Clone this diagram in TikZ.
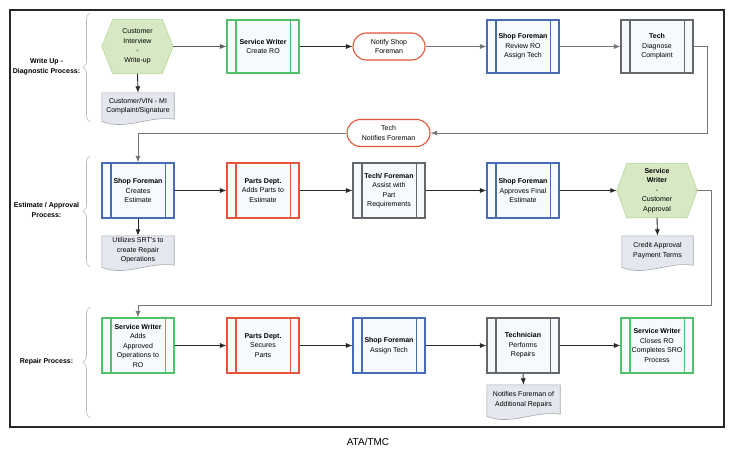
\documentclass[tikz,border=0pt]{standalone}
\usepackage{fontspec}
\setmainfont{Liberation Sans}
\usetikzlibrary{arrows.meta,decorations.pathreplacing,backgrounds,calc}

\definecolor{cgreen}{RGB}{82,194,106}
\definecolor{cred}{RGB}{228,84,58}
\definecolor{cblue}{RGB}{72,108,180}
\definecolor{cgray}{RGB}{100,104,108}
\definecolor{hexfill}{RGB}{214,233,196}
\definecolor{hexline}{RGB}{180,216,150}
\definecolor{docfill}{RGB}{228,232,238}
\definecolor{docline}{RGB}{165,168,172}
\definecolor{boxfill}{RGB}{247,250,253}
\definecolor{linegray}{RGB}{118,118,118}
\definecolor{arrdark}{RGB}{40,40,40}
\definecolor{bracegray}{RGB}{185,185,185}
\definecolor{framecol}{RGB}{40,40,40}

\begin{document}
\begin{tikzpicture}[x=1pt,y=-1pt,
  every node/.style={font=\fontsize{7}{9.5}\selectfont, align=center, inner sep=0pt},
  proc/.style={draw=#1, fill=boxfill, line width=1.1pt, minimum width=72pt, minimum height=55pt},
  term/.style={draw=cred, fill=white, line width=1.1pt, minimum height=27pt, rounded corners=13.5pt},
  hexnode/.style={minimum width=#1, minimum height=54pt},
  hexshape/.style={fill=hexfill, draw=hexline, line width=0.6pt},
  docnode/.style={minimum height=29pt},
  docshape/.style={fill=docfill, draw=docline, line width=0.6pt},
  arr/.style={-{Latex[length=6.5pt,width=5pt]}, line width=0.9pt, draw=arrdark},
  fb/.style={-{Latex[length=6.5pt,width=5pt]}, line width=0.9pt, draw=linegray},
  lbl/.style={font=\fontsize{7}{9.5}\selectfont\bfseries},
  bracestyle/.style={draw=bracegray, line width=0.6pt, decorate, decoration={brace, amplitude=7pt}}
]
\useasboundingbox (0,0) rectangle (735,455);

% outer frame
\draw[line width=1.3pt, draw=framecol] (10,10) rectangle (724,427);

% lane labels and braces
\node[lbl] (l1) at (46.5,66.5) {Write Up -\\Diagnostic Process:};
\node[lbl] (l2) at (46.5,210) {Estimate / Approval\\Process:};
\node[lbl] (l3) at (46.5,362) {Repair Process:};
\draw[bracestyle] (90,122) -- (90,13);
\draw[bracestyle] (90,267) -- (90,156);
\draw[bracestyle] (90,418) -- (90,307);

% ---------- Row 1 ----------
\node[hexnode=71pt] (cw) at (137.5,46.5) {Customer\\Interview\\-\\Write-up};
\node[docnode, minimum width=72pt, minimum height=26pt] (d1) at (138,106) {Customer/VIN - MI\\Complaint/Signature};
\node[proc=cgreen, minimum height=53pt] (sw1) at (263,46.5) {\textbf{Service Writer}\\Create RO};
\node[term, minimum width=72pt] (nsf) at (389,46.5) {Notify Shop\\Foreman};
\node[proc=cblue, minimum height=53pt] (sf1) at (523,46.5) {\textbf{Shop Foreman}\\Review RO\\Assign Tech};
\node[proc=cgray, minimum height=53pt] (t1) at (657,46.5) {\textbf{Tech}\\Diagnose\\Complaint};
\node[term, minimum width=83pt] (tnf) at (388.5,133) {Tech\\Notifies Foreman};

% ---------- Row 2 ----------
\node[proc=cblue] (sf2) at (138,190.5) {\textbf{Shop Foreman}\\Creates\\Estimate};
\node[docnode, minimum width=72pt] (d2) at (138,250.5) {Utilizes SRT's to\\create Repair\\Operations};
\node[proc=cred] (pd2) at (263,190.5) {\textbf{Parts Dept.}\\Adds Parts to\\Estimate};
\node[proc=cgray] (tf2) at (389,190.5) {\textbf{Tech/ Foreman}\\Assist with\\Part\\Requirements};
\node[proc=cblue] (sf3) at (523,190.5) {\textbf{Shop Foreman}\\Approves Final\\Estimate};
\node[hexnode=80pt] (ca) at (657,190.5) {\textbf{Service}\\\textbf{Writer}\\-\\Customer\\Approval};
\node[docnode, minimum width=71pt] (d3) at (657.5,250.5) {Credit Approval\\Payment Terms};

% ---------- Row 3 ----------
\node[proc=cgreen] (sw3) at (138,345.5) {\textbf{Service Writer}\\Adds\\Approved\\Operations to\\RO};
\node[proc=cred] (pd3) at (263,345.5) {\textbf{Parts Dept.}\\Secures\\Parts};
\node[proc=cblue] (sf4) at (389,345.5) {\textbf{Shop Foreman}\\Assign Tech};
\node[proc=cgray] (tc3) at (523,345.5) {\textbf{Technician}\\Performs\\Repairs};
\node[proc=cgreen] (sw4) at (657,345.5) {\textbf{Service Writer}\\Closes RO\\Completes SRO\\Process};
\node[docnode, minimum width=73pt] (d4) at (523.5,399.5) {Notifies Foreman of\\Additional Repairs};

% footer
\node[font=\fontsize{10}{12}\selectfont] (src) at (368,442) {ATA/TMC};

% inner lines of the process boxes
\foreach \n/\c in {sw1/cgreen, sf1/cblue, t1/cgray, sf2/cblue, pd2/cred, tf2/cgray, sf3/cblue,
                   sw3/cgreen, pd3/cred, sf4/cblue, tc3/cgray, sw4/cgreen}{
  \draw[draw=\c, line width=1.1pt] ([xshift=9.5pt]\n.north west) -- ([xshift=9.5pt]\n.south west)
        ([xshift=-9.5pt]\n.north east) -- ([xshift=-9.5pt]\n.south east);
}

% hexagons and documents (background)
\begin{scope}[on background layer]
  \foreach \h/\s in {cw/11pt, ca/10pt}{
    \filldraw[hexshape] (\h.west) -- ([xshift=\s]\h.north west) -- ([xshift=-\s]\h.north east)
      -- (\h.east) -- ([xshift=-\s]\h.south east) -- ([xshift=\s]\h.south west) -- cycle;
  }
  \foreach \d in {d1,d2,d3,d4}{
    \filldraw[docshape] (\d.north west) -- (\d.north east) -- (\d.south east)
      .. controls ($(\d.south)+(12,-4)$) and ($(\d.south)+(-14,12)$) .. ($(\d.south west)+(0,2)$) -- cycle;
  }
\end{scope}

% connectors row 1
\draw[arr, draw=linegray!80!black] (cw.east) -- (sw1.west);
\draw[arr] (cw.south) -- (d1.north);
\draw[arr] (sw1.east) -- (nsf.west);
\draw[fb] (nsf.east) -- (sf1.west);
\draw[fb] (sf1.east) -- (t1.west);
\draw[fb] (t1.east) -- ++(14,0) |- (tnf.east);
\draw[fb] (tnf.west) -| (sf2.north);

% connectors row 2
\draw[arr] (sf2.south) -- (d2.north);
\draw[arr] (sf2.east) -- (pd2.west);
\draw[arr] (pd2.east) -- (tf2.west);
\draw[arr] (tf2.east) -- (sf3.west);
\draw[arr] (sf3.east) -- (ca.west);
\draw[arr] (ca.south) -- (d3.north);
\coordinate (c1) at (711,305);
\draw[fb] (ca.east) -| (c1) -| (sw3.north);

% connectors row 3
\draw[arr] (sw3.east) -- (pd3.west);
\draw[arr] (pd3.east) -- (sf4.west);
\draw[arr] (sf4.east) -- (tc3.west);
\draw[arr] (tc3.east) -- (sw4.west);
\draw[arr] (tc3.south) -- (d4.north);
\end{tikzpicture}
\end{document}
